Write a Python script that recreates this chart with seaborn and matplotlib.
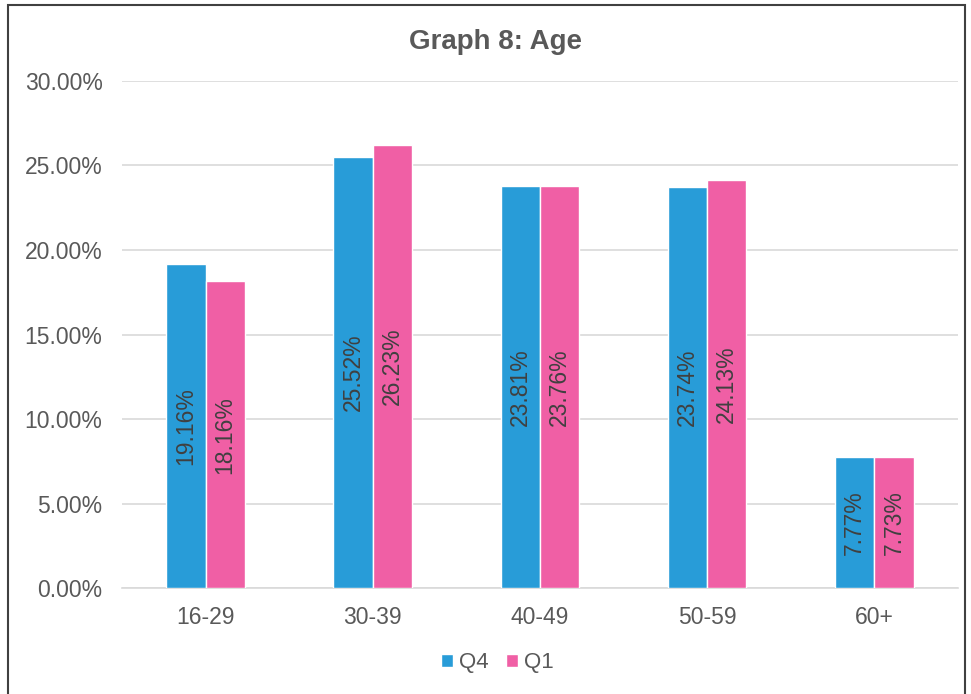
import matplotlib
matplotlib.use("Agg")
import matplotlib.pyplot as plt
from matplotlib.patches import Rectangle
from matplotlib.ticker import FuncFormatter
import seaborn as sns
import pandas as pd

age_groups = ["16-29", "30-39", "40-49", "50-59", "60+"]
q4_values = [19.16, 25.52, 23.81, 23.74, 7.77]
q1_values = [18.16, 26.23, 23.76, 24.13, 7.73]
series_names = ["Q4", "Q1"]
y_ticks = [0, 5, 10, 15, 20, 25, 30]

df = pd.DataFrame({
    "age": age_groups * 2,
    "value": q4_values + q1_values,
    "quarter": [series_names[0]] * len(age_groups) + [series_names[1]] * len(age_groups),
})

sns.set_theme(style="white")
plt.rcParams["font.family"] = ["Liberation Sans", "DejaVu Sans"]
text_grey = "#595959"

fig = plt.figure(figsize=(9.71, 6.94), dpi=100)
ax = fig.add_axes([0.1256, 0.1527, 0.8610, 0.7306])

palette = {"Q4": "#289CD8", "Q1": "#F05FA5"}
sns.barplot(data=df, x="age", y="value", hue="quarter", order=age_groups,
            hue_order=series_names, palette=palette, width=0.47,
            saturation=1, ax=ax, legend=True, zorder=3)

for container in ax.containers:
    ax.bar_label(container, labels=[f"{v:.2f}%" for v in container.datavalues],
                 label_type="center", rotation=90, fontsize=16.5, color="#404040")

ax.set_ylim(0, 30)
ax.set_xlim(-0.5, len(age_groups) - 0.5)
ax.set_yticks(y_ticks)
ax.yaxis.set_major_formatter(FuncFormatter(lambda v, _: f"{v:.2f}%"))
ax.yaxis.grid(True, color="#D9D9D9", linewidth=1.2, zorder=0)
ax.set_axisbelow(True)
ax.set_xlabel("")
ax.set_ylabel("")
ax.tick_params(axis="both", labelsize=16.5, colors=text_grey, length=0)
ax.tick_params(axis="y", pad=14)
ax.tick_params(axis="x", pad=13)
for side in ["top", "right", "left"]:
    ax.spines[side].set_visible(False)
ax.spines["bottom"].set_color("#D9D9D9")
ax.spines["bottom"].set_linewidth(1.2)

fig.text(0.51, 0.94, "Graph 8: Age", ha="center", va="center",
         fontsize=20, fontweight="bold", color=text_grey)

handles, labels = ax.get_legend_handles_labels()
ax.legend(handles, labels, loc="center", ncol=2, frameon=False,
          fontsize=16, labelcolor=text_grey, handlelength=0.55,
          handleheight=0.55, handletextpad=0.25, columnspacing=0.8)
ax.get_legend().set_bbox_to_anchor((0.512, 0.045), transform=fig.transFigure)

fig.patches.append(Rectangle((8 / 971, -0.05), 957 / 971, 1.05 - 5 / 694,
                             transform=fig.transFigure, fill=False,
                             edgecolor="#404040", linewidth=1.5))

fig.savefig("out.png", dpi=100)
